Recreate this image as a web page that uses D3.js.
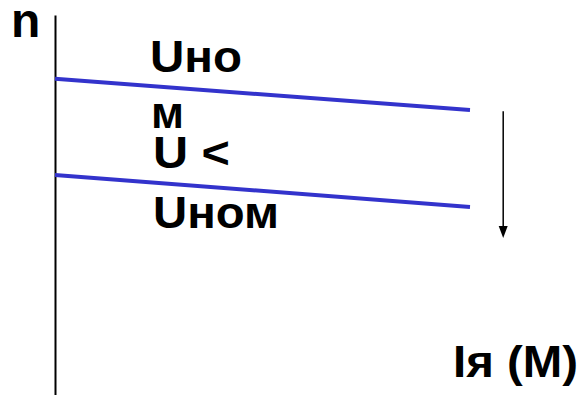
<!DOCTYPE html>
<html>
<head>
<meta charset="utf-8">
<script src="https://cdn.jsdelivr.net/npm/d3@7"></script>
<style>
  html, body { margin: 0; padding: 0; background: #fff; }
  svg { display: block; }
  text { font-family: "Liberation Sans", Arial, sans-serif; font-weight: bold; fill: #000; }
</style>
</head>
<body>
<svg id="chart" width="579" height="395"></svg>
<script>
// Armature current (relative) at the ends of each characteristic
const currentValues = [0, 1];
// Speed n for nominal voltage and for reduced voltage (U < Uном)
const speedNominal = [83.2, 75.0];
const speedReduced = [57.9, 49.5];
// Direction of speed change when voltage is lowered
const arrowCurrent = 1.08;
const arrowSpeed = [74.7, 41.3];

const svg = d3.select("#chart");
const x = d3.scaleLinear().domain([0, 1]).range([55, 470]);
const y = d3.scaleLinear().domain([0, 100]).range([395, 15]);

// Vertical n axis
const axis = d3.axisLeft(y).tickValues([]).tickSizeOuter(0);
svg.append("g")
  .attr("transform", `translate(${x(0)},0)`)
  .call(axis)
  .call(g => g.select(".domain").attr("stroke", "#000").attr("stroke-width", 2));

// Characteristics
const line = d3.line().x(d => x(d[0])).y(d => y(d[1]));
[speedNominal, speedReduced].forEach(s => {
  svg.append("path")
    .datum(currentValues.map((c, i) => [c, s[i]]))
    .attr("d", line)
    .attr("fill", "none")
    .attr("stroke", "#3333cc")
    .attr("stroke-width", 4);
});

// Arrow showing the speed drop
const ax = x(arrowCurrent), ayTop = y(arrowSpeed[0]), ayTip = y(arrowSpeed[1]);
svg.append("line")
  .attr("x1", ax).attr("x2", ax)
  .attr("y1", ayTop).attr("y2", ayTip - 10)
  .attr("stroke", "#000").attr("stroke-width", 1.5);
svg.append("path")
  .attr("d", `M${ax - 4.5},${ayTip - 12} L${ax + 4.5},${ayTip - 12} L${ax},${ayTip} Z`)
  .attr("fill", "#000");

// Labels
const labels = [
  { t: "n", x: 11, y: 37, s: 48 },
  { t: "Uно", x: 150, y: 72, s: 44, w: 92 },
  { t: "м", x: 151, y: 128, s: 44, w: 33 },
  { t: "U <", x: 153, y: 168, s: 44, w: 77 },
  { t: "Uном", x: 153, y: 228, s: 44, w: 126 },
  { t: "Iя (M)", x: 453, y: 377, s: 44, w: 125 }
];
svg.selectAll("text.lbl")
  .data(labels)
  .enter().append("text")
  .attr("class", "lbl")
  .attr("x", d => d.x).attr("y", d => d.y)
  .attr("font-size", d => d.s)
  .attr("textLength", d => d.w || null)
  .attr("lengthAdjust", d => d.w ? "spacingAndGlyphs" : null)
  .text(d => d.t);
</script>
</body>
</html>
